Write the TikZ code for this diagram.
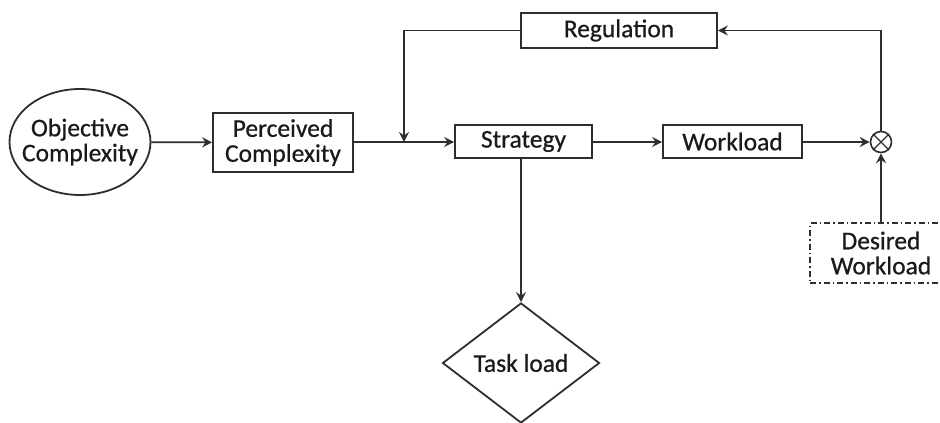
\documentclass[tikz,border=0pt]{standalone}
\usepackage{fontspec}
\setmainfont{Carlito}[FakeBold=0.7]
\usetikzlibrary{shapes.geometric,arrows.meta}
\definecolor{ln}{HTML}{2E2E2E}
\definecolor{tx}{HTML}{1A1A1A}
\tikzset{
  every node/.style={font=\fontsize{25.5}{25}\selectfont, text=tx, align=center, inner sep=0pt},
  box/.style={draw=ln, line width=1.8pt, rectangle},
  conn/.style={draw=ln, line width=1.8pt},
  arr/.style={conn, -{Stealth[length=10pt,width=10pt,inset=3.5pt]}},
}
\begin{document}
\begin{tikzpicture}[x=1pt,y=-1pt]
\useasboundingbox (0,0) rectangle (940,423);
\clip (0,0) rectangle (940,423);
\node[draw=ln, line width=1.8pt, ellipse, inner xsep=-9pt, inner ysep=0pt, minimum width=141pt, minimum height=106pt] (obj) at (80,142) {Objective\\Complexity};
\node[box, minimum width=140pt, minimum height=59pt] (per) at (283,142.5) {Perceived\\Complexity};
\node[box, minimum width=137pt, minimum height=33pt] (str) at (523.5,141.5) {Strategy};
\node[box, minimum width=139pt, minimum height=33pt] (wl) at (732.5,141.5) {Workload};
\node[box, minimum width=196pt, minimum height=35pt] (reg) at (619,30.5) {Regulation};
\node[draw=ln, line width=1.6pt, circle, minimum size=21pt] (sum) at (881,142) {};
\draw[conn, line width=1.3pt] (sum.45) -- (sum.225) (sum.135) -- (sum.-45);
\node[draw=ln, line width=1.4pt, dash pattern=on 6pt off 3pt on 1.5pt off 3pt, rectangle, minimum width=142pt, minimum height=60pt] (dw) at (881,253) {Desired\\Workload};
\node[draw=ln, line width=1.8pt, diamond, minimum width=157pt, minimum height=120pt] (task) at (521,363) {Task load};
\coordinate (j) at (404,142);
\coordinate (jt) at (404,30.5);
\coordinate (st) at (881,30.5);
\coordinate (sb) at (521,158);
\draw[arr] (obj) -- (per);
\draw[arr] (per.east |- j) -- (str.west |- j);
\draw[arr] (reg.west) -- (jt) -- (j);
\draw[arr] (str.east |- j) -- (wl.west |- j);
\draw[arr] (wl.east |- j) -- (sum);
\draw[arr] (sum.north) -- (st) -- (reg.east);
\draw[arr] (dw.north) -- (sum.south);
\draw[arr] (sb) -- (task.north);
\end{tikzpicture}
\end{document}
